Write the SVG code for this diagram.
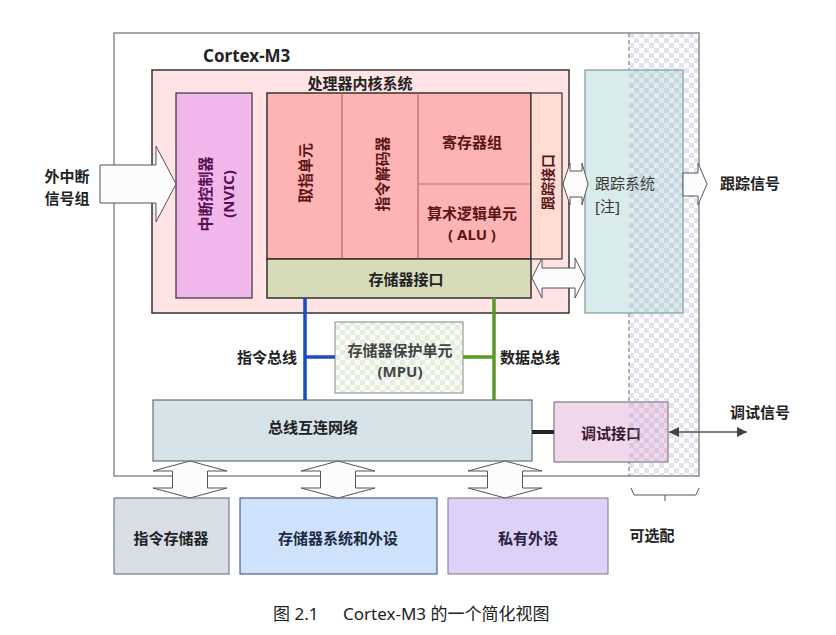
<svg xmlns="http://www.w3.org/2000/svg" width="836" height="635" viewBox="0 0 836 635">
<defs>
<style>
text { font-family: "Noto Sans", "Noto Sans CJK SC", sans-serif; }
.t { font-weight: bold; font-size: 15px; fill: #222; }
.c { text-anchor: middle; dominant-baseline: central; }
.l { dominant-baseline: central; }
.core { fill: #5a1616; }
.blk { stroke: #555; stroke-width: 1; fill: #fbfcfb; }
.div { stroke: #b06a6a; stroke-width: 1.2; }
</style>
<pattern id="chk" width="10" height="10" patternUnits="userSpaceOnUse" x="629" y="33">
<rect x="0" y="0" width="5" height="5" fill="#aaa4cc" fill-opacity="0.32"/>
<rect x="5" y="5" width="5" height="5" fill="#aaa4cc" fill-opacity="0.32"/>
</pattern>
<pattern id="gchk" width="10" height="10" patternUnits="userSpaceOnUse">
<rect width="10" height="10" fill="#f9fbf6"/>
<rect x="0" y="0" width="5" height="5" fill="#e4eddb"/>
<rect x="5" y="5" width="5" height="5" fill="#e4eddb"/>
</pattern>
<marker id="ah" viewBox="0 0 10 10" refX="10" refY="5" markerWidth="10" markerHeight="10" markerUnits="userSpaceOnUse" orient="auto-start-reverse">
<path d="M0,0 L10,5 L0,10 z" fill="#444"/>
</marker>
</defs>
<rect width="836" height="635" fill="#ffffff"/>

<g id="cortex-m3">
<rect x="114" y="33" width="585" height="443" fill="none" stroke="#8a8a8a" stroke-width="1.5"/>
<text x="203" y="55" class="t l" style="font-size:17px">Cortex-M3</text>
</g>
<line x1="629" y1="33" x2="629" y2="476" stroke="#666" stroke-width="1" stroke-dasharray="4,3"/>

<g id="core-system">
<rect x="152" y="70" width="417" height="243" fill="#ffe3e5" stroke="#333" stroke-width="1.5"/>
<text x="360" y="83" class="t c">处理器内核系统</text>
</g>

<g id="nvic">
<rect x="176" y="93" width="76" height="205" fill="#f2b7ea" stroke="#333" stroke-width="1.2"/>
<text transform="translate(205,194) rotate(-90)" class="t c" style="fill:#561050">中断控制器</text>
<text transform="translate(228,194) rotate(-90)" class="t c" style="fill:#561050">(NVIC)</text>
</g>

<g id="core-units">
<rect x="267" y="93" width="264" height="166" fill="#ffb4b4" stroke="#333" stroke-width="1.5"/>
<line x1="342" y1="93" x2="342" y2="259" class="div"/>
<line x1="418" y1="93" x2="418" y2="259" class="div"/>
<line x1="418" y1="184" x2="531" y2="184" class="div"/>
</g>
<g id="fetch-unit">
<text transform="translate(305,173) rotate(-90)" class="t c core">取指单元</text>
</g>
<g id="decoder">
<text transform="translate(382,174) rotate(-90)" class="t c core">指令解码器</text>
</g>
<g id="registers">
<text x="472" y="142" class="t c core">寄存器组</text>
</g>
<g id="alu">
<text x="472" y="213" class="t c core">算术逻辑单元</text>
<text x="472" y="234" class="t c core">( ALU )</text>
</g>

<g id="trace-interface">
<rect x="531" y="93" width="31" height="166" fill="#ffdcd2" stroke="#333" stroke-width="1.2"/>
<text transform="translate(547,182) rotate(-90)" class="t c core" style="font-size:14px">跟踪接口</text>
</g>

<g id="memory-interface">
<rect x="267" y="259" width="264" height="39" fill="#d7dbb8" stroke="#333" stroke-width="1.5"/>
<text x="406" y="279" class="t c">存储器接口</text>
</g>

<g id="trace-system">
<rect x="585" y="70" width="98" height="243" fill="#d8edeb" stroke="#7c9c9a" stroke-width="1.2"/>
<text x="595" y="183" class="l" style="font-size:15px;fill:#333">跟踪系统</text>
<text x="595" y="206" class="l" style="font-size:15px;fill:#333">[注]</text>
</g>

<g id="mpu">
<rect x="335" y="322" width="128" height="71" fill="url(#gchk)" stroke="#888" stroke-width="1"/>
<text x="400" y="350" class="t c" style="fill:#444">存储器保护单元</text>
<text x="400" y="371" class="t c" style="fill:#444">(MPU)</text>
</g>

<g id="bus-matrix">
<rect x="153" y="400" width="379" height="61" fill="#d6e4ea" stroke="#555" stroke-width="1"/>
<text x="313" y="427" class="t c">总线互连网络</text>
</g>

<g id="debug-interface">
<rect x="554" y="402" width="114" height="60" fill="#f0d7ec" stroke="#666" stroke-width="1"/>
<text x="611" y="433" class="t c" style="fill:#3a1a30">调试接口</text>
</g>

<g id="instr-memory">
<rect x="114" y="498" width="115" height="76" fill="#d8dee6" stroke="#666" stroke-width="1"/>
<text x="171" y="538" class="t c">指令存储器</text>
</g>
<g id="memory-peripherals">
<rect x="240" y="498" width="197" height="76" fill="#cfe2fb" stroke="#2e4270" stroke-width="1"/>
<text x="338" y="538" class="t c" style="fill:#1e2a44">存储器系统和外设</text>
</g>
<g id="private-peripherals">
<rect x="448" y="498" width="160" height="76" fill="#dcd2f8" stroke="#777" stroke-width="1"/>
<text x="528" y="538" class="t c" style="fill:#2a2040">私有外设</text>
</g>

<g id="optional-region">
<rect x="629" y="33" width="70" height="443" fill="url(#chk)"/>
<path d="M631,488 L634,495 L696,495 L699,488 M665,495 L665,501" fill="none" stroke="#555" stroke-width="1"/>
<text x="652" y="535" class="t c">可选配</text>
</g>

<g id="connectors">
<polygon class="blk" points="100,165 156,165 156,146 176,184 156,222 156,203 100,203"/>
<polygon class="blk" points="563,184 570,163 570,171 582,171 582,163 588,184 582,205 582,197 570,197 570,205"/>
<polygon class="blk" points="532,278 542,258 542,268 575,268 575,258 585,278 575,298 575,288 542,288 542,298"/>
<polygon class="blk" points="683,173 698,173 698,163 707,184 698,205 698,196 683,196"/>
<polygon class="blk" points="190,461 227,471 207.5,471 207.5,488 227,488 190,498 153,488 172.5,488 172.5,471 153,471"/>
<polygon class="blk" points="338,461 375,471 355.5,471 355.5,488 375,488 338,498 301,488 320.5,488 320.5,471 301,471"/>
<polygon class="blk" points="505,461 542,471 522.5,471 522.5,488 542,488 505,498 468,488 487.5,488 487.5,471 468,471"/>
<path d="M305,298 L305,400 M305,357 L335,357" fill="none" stroke="#1a4ec0" stroke-width="3.5"/>
<path d="M494,298 L494,400 M463,357 L494,357" fill="none" stroke="#5a9a1e" stroke-width="3.5"/>
<line x1="532" y1="432" x2="554" y2="432" stroke="#222" stroke-width="4"/>
<line x1="669" y1="432" x2="747" y2="432" stroke="#555" stroke-width="1.5" marker-start="url(#ah)" marker-end="url(#ah)"/>
</g>

<g id="labels">
<text x="67" y="176" class="t c">外中断</text>
<text x="67" y="198" class="t c">信号组</text>
<text x="720" y="183" class="t l">跟踪信号</text>
<text x="297" y="357" class="t l" style="text-anchor:end">指令总线</text>
<text x="500" y="357" class="t l">数据总线</text>
<text x="760" y="412" class="t c">调试信号</text>
<text x="273" y="620" style="font-size:17px;fill:#222">图 2.1</text>
<text x="343" y="620" style="font-size:17px;fill:#222">Cortex-M3 的一个简化视图</text>
</g>
</svg>
